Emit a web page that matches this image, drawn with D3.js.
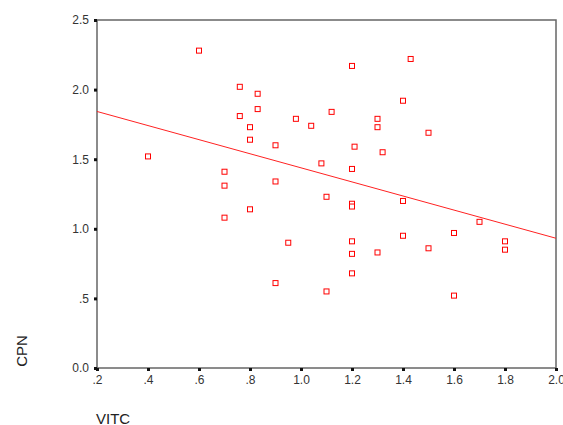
<!DOCTYPE html>
<html>
<head>
<meta charset="utf-8">
<script src="https://cdn.jsdelivr.net/npm/d3@7"></script>
<style>
  body { margin: 0; background: #fff; }
  text { font-family: "Liberation Sans", Arial, sans-serif; }
</style>
</head>
<body>
<script>
// data
const vitc = [0.4, 0.6, 0.7, 0.7, 0.7, 0.76, 0.76, 0.83, 0.83, 0.8, 0.8, 0.8,
  0.9, 0.9, 0.9, 0.95, 0.98, 1.04, 1.08, 1.1, 1.1, 1.12, 1.2, 1.2, 1.2, 1.2,
  1.2, 1.2, 1.2, 1.21, 1.3, 1.3, 1.3, 1.32, 1.4, 1.4, 1.4, 1.43, 1.5, 1.5,
  1.6, 1.6, 1.7, 1.8, 1.8]
const cpn = [1.52, 2.28, 1.41, 1.31, 1.08, 2.02, 1.81, 1.97, 1.86, 1.73, 1.64, 1.14,
  1.6, 1.34, 0.61, 0.9, 1.79, 1.74, 1.47, 1.23, 0.55, 1.84, 2.17, 1.43, 1.18, 1.16,
  0.91, 0.82, 0.68, 1.59, 1.79, 1.73, 0.83, 1.55, 1.92, 1.2, 0.95, 2.22, 1.69, 0.86,
  0.97, 0.52, 1.05, 0.91, 0.85]
const fit = { intercept: 1.944, slope: -0.506 }
const xTicks = [0.2, 0.4, 0.6, 0.8, 1.0, 1.2, 1.4, 1.6, 1.8, 2.0]
const yTicks = [0, 0.5, 1.0, 1.5, 2.0, 2.5]

const width = 563, height = 425
const m = { left: 97, right: 556, top: 20, bottom: 368 }

const svg = d3.select('body').append('svg')
  .attr('width', width)
  .attr('height', height)

const x = d3.scaleLinear().domain([0.2, 2.0]).range([m.left, m.right])
const y = d3.scaleLinear().domain([0, 2.5]).range([m.bottom, m.top])

// SPSS style number labels (.5, 1.0 ...)
const fmt = v => {
  const s = d3.format('.1f')(v)
  return s.startsWith('0.') && v !== 0 ? s.slice(1) : s
}

// frame
svg.append('rect')
  .attr('x', m.left).attr('y', m.top)
  .attr('width', m.right - m.left).attr('height', m.bottom - m.top)
  .attr('fill', 'none')
  .attr('stroke', '#666')
  .attr('stroke-width', 1.5)

// axes
const xAxis = svg.append('g')
  .attr('transform', `translate(0,${m.bottom})`)
  .call(d3.axisBottom(x).tickValues(xTicks).tickFormat(fmt).tickSize(3).tickPadding(4))
const yAxis = svg.append('g')
  .attr('transform', `translate(${m.left},0)`)
  .call(d3.axisLeft(y).tickValues(yTicks).tickFormat(fmt).tickSize(3).tickPadding(5))

for (const g of [xAxis, yAxis]) {
  g.select('.domain').remove()
  g.selectAll('.tick line').attr('stroke', '#111').attr('stroke-width', 3)
  g.selectAll('.tick text')
    .attr('fill', '#333')
    .style('font-size', '12px')
    .style('font-family', '"Liberation Sans", Arial, sans-serif')
}

// regression line
svg.append('line')
  .attr('x1', x(0.2)).attr('y1', y(fit.intercept + fit.slope * 0.2))
  .attr('x2', x(2.0)).attr('y2', y(fit.intercept + fit.slope * 2.0))
  .attr('stroke', '#f22')
  .attr('stroke-width', 1)

// points
svg.append('g')
  .selectAll('rect')
  .data(vitc)
  .enter()
  .append('rect')
  .attr('x', (d, i) => x(d) - 2.5)
  .attr('y', (d, i) => y(cpn[i]) - 2.5)
  .attr('width', 5)
  .attr('height', 5)
  .attr('fill', '#fff')
  .attr('stroke', '#f00')
  .attr('stroke-width', 1)

// axis titles
svg.append('text')
  .attr('transform', 'translate(27,351) rotate(-90)')
  .attr('text-anchor', 'middle')
  .style('font-size', '15px')
  .attr('fill', '#222')
  .text('CPN')

svg.append('text')
  .attr('x', 96).attr('y', 424)
  .style('font-size', '15px')
  .attr('fill', '#222')
  .text('VITC')
</script>
</body>
</html>
